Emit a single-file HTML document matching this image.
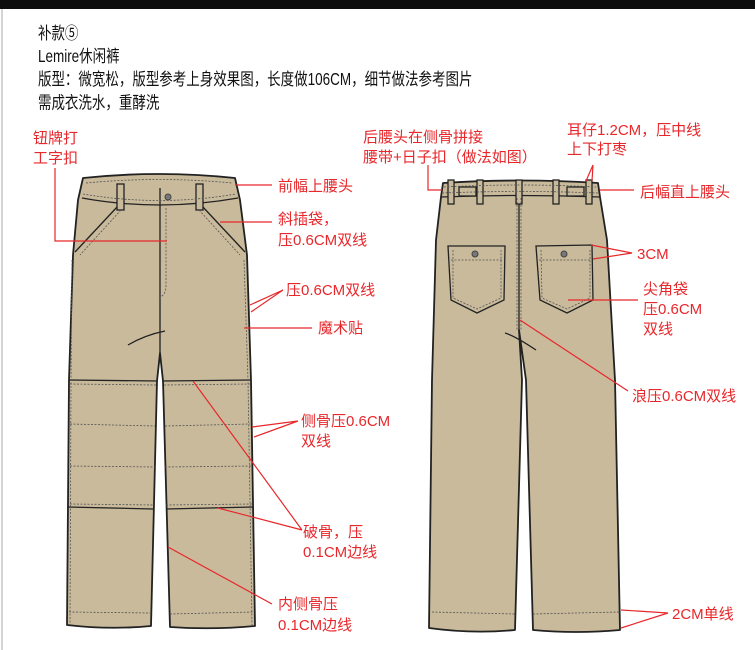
<!DOCTYPE html>
<html><head><meta charset="utf-8"><style>
html,body{margin:0;padding:0;background:#fff;}
body{width:755px;height:650px;overflow:hidden;position:relative;font-family:"Liberation Sans","Noto Sans CJK SC",sans-serif;}
svg{position:absolute;left:0;top:0;}
</style></head><body>
<svg width="755" height="650" viewBox="0 0 755 650" xmlns="http://www.w3.org/2000/svg" font-family="'Liberation Sans','Noto Sans CJK SC',sans-serif">
<rect x="0" y="0" width="755" height="9" fill="#0d0d0d"/>
<line x1="2" y1="9" x2="2" y2="650" stroke="#aaa" stroke-width="1"/>
<g font-size="15" fill="#111" transform="scale(0.9,1.15)">
<text x="42.2" y="33.9">补款⑤</text>
<text x="42.2" y="53.9">Lemire休闲裤</text>
<text x="42.2" y="73.9">版型：微宽松，版型参考上身效果图，长度做106CM，细节做法参考图片</text>
<text x="42.2" y="94.3">需成衣洗水，重酵洗</text>
</g>

<!-- FRONT PANTS -->
<g stroke="#222" stroke-width="1.8" fill="#c8ba9b" stroke-linejoin="round">
<path d="M83,178 Q159,170 235,178 L240,200 L247,255 L251,380 L255,626 Q212,630 170,627 L163,381 L160,353 L157,381 L151,626 Q110,630 67,625 L69,380 L73,255 L78,200 Z"/>
</g>
<g stroke="#222" stroke-width="1.3" fill="none">
<path d="M82,198 Q159,212 238,198"/>
<line x1="160" y1="188" x2="160" y2="353"/>
<path d="M118,206 L75,252"/><path d="M202,206 L245,252"/>
<path d="M69,380 L157,381"/><path d="M163,381 L251,380"/>
<path d="M68,507 L153,509"/><path d="M166,509 L253,507"/>
<path d="M128,345 Q145,335 165,331"/>
<rect x="117" y="184" width="7" height="26" fill="#c8ba9b"/>
<rect x="196" y="184" width="7" height="26" fill="#c8ba9b"/>
</g>
<circle cx="168" cy="197" r="3" fill="#777" stroke="#444" stroke-width="1"/>
<g stroke="#555" stroke-width="0.8" fill="none" stroke-dasharray="2,1.5">
<path d="M86,183 Q159,176 232,183"/>
<path d="M83,194 Q159,207 236,194"/>
<path d="M166,208 L166,285 Q166,295 160,297"/>
<path d="M121,210 L80,255"/><path d="M199,210 L240,255"/>
<path d="M72,260 L71,380 L70,625"/><path d="M244,260 L248,380 L252,625"/>
<path d="M70,384 L156,385"/><path d="M164,385 L250,384"/>
<path d="M70,424 L155,426"/><path d="M165,426 L250,424"/>
<path d="M70,466 L155,467"/><path d="M165,467 L251,466"/>
<path d="M70,504 L154,505"/><path d="M166,505 L252,504"/>
<path d="M69,612 L151,613"/><path d="M170,614 L254,612"/>
</g>

<!-- BACK PANTS -->
<g stroke="#222" stroke-width="1.8" fill="#c8ba9b" stroke-linejoin="round">
<path d="M443,183 Q520,178 598,183 L600,197 L607,240 L615,380 L620,630 Q576,634 533,630 L526,380 L519,330 L522,380 L515,630 Q472,634 429,628 L432,380 L436,240 L441,197 Z"/>
</g>
<g stroke="#222" stroke-width="1.3" fill="none">
<path d="M441,197 Q520,194 600,197"/>
<line x1="519" y1="196" x2="519" y2="330"/>
<path d="M448,246 L505,246 L504,300 L477,313 L451,300 Z" fill="#c8ba9b"/>
<path d="M536,246 L592,245 L593,300 L567,313 L540,300 Z" fill="#c8ba9b"/>
<path d="M505,333 Q515,336 536,350"/>
<rect x="459" y="187" width="17" height="9" fill="#c8ba9b"/>
<rect x="567" y="187" width="17" height="9" fill="#c8ba9b"/>
<rect x="448" y="180" width="6" height="24" fill="#c8ba9b"/>
<rect x="477" y="180" width="6" height="24" fill="#c8ba9b"/>
<rect x="516" y="180" width="6" height="24" fill="#c8ba9b"/>
<rect x="553" y="180" width="6" height="24" fill="#c8ba9b"/>
<rect x="586" y="180" width="6" height="24" fill="#c8ba9b"/>
</g>
<circle cx="475" cy="254" r="3" fill="#777" stroke="#444"/>
<circle cx="564" cy="254" r="3" fill="#777" stroke="#444"/>
<g stroke="#555" stroke-width="0.8" fill="none" stroke-dasharray="2,1.5">
<path d="M444,187 Q520,183 596,187"/><path d="M442,193 Q520,190 598,193"/>
<line x1="517" y1="198" x2="517" y2="330"/><line x1="521" y1="198" x2="521" y2="330"/>
<path d="M451,260 L502,260"/><path d="M453,250 L453,298 L477,309 L501,298 L501,250"/>
<path d="M539,260 L590,260"/><path d="M541,250 L542,298 L567,309 L590,298 L590,250"/>
<path d="M432,612 L515,614"/><path d="M533,614 L619,612"/>
</g>

<!-- RED LEADERS -->
<g stroke="#e8272b" stroke-width="1.2" fill="none">
<path d="M55,168 L55,241 L167,241"/>
<line x1="235" y1="185" x2="272" y2="185"/>
<line x1="220" y1="222" x2="272" y2="222"/>
<path d="M283,290 L250,305 M283,290 L251,312"/>
<line x1="244" y1="328" x2="312" y2="328"/>
<path d="M298,421 L252,427 M298,421 L254,437"/>
<path d="M302,530 L193,381 M302,530 L218,508"/>
<line x1="272" y1="604" x2="168" y2="547"/>
<path d="M428,165 L428,190 L442,190"/>
<path d="M593,165 L586,181 M593,165 L592,181"/>
<line x1="600" y1="190" x2="634" y2="190"/>
<path d="M632,253 L591,245 M632,253 L593,259"/>
<line x1="568" y1="300" x2="638" y2="300"/>
<line x1="628" y1="391" x2="520" y2="320"/>
<path d="M668,613 L621,610 M668,613 L621,628"/>
</g>
<g font-size="15" fill="#e8272b">
<text x="33" y="143">钮牌打</text>
<text x="33" y="163">工字扣</text>
<text x="278" y="191">前幅上腰头</text>
<text x="278" y="224">斜插袋，</text>
<text x="278" y="245">压0.6CM双线</text>
<text x="286" y="295">压0.6CM双线</text>
<text x="318" y="333">魔术贴</text>
<text x="301" y="426">侧骨压0.6CM</text>
<text x="301" y="446">双线</text>
<text x="303" y="537">破骨，压</text>
<text x="303" y="557">0.1CM边线</text>
<text x="278" y="609">内侧骨压</text>
<text x="278" y="630">0.1CM边线</text>
<text x="363" y="142">后腰头在侧骨拼接</text>
<text x="363" y="162">腰带+日子扣（做法如图）</text>
<text x="567" y="135">耳仔1.2CM，压中线</text>
<text x="567" y="154">上下打枣</text>
<text x="640" y="197">后幅直上腰头</text>
<text x="637" y="259">3CM</text>
<text x="643" y="294">尖角袋</text>
<text x="643" y="314">压0.6CM</text>
<text x="643" y="334">双线</text>
<text x="632" y="401">浪压0.6CM双线</text>
<text x="672" y="619">2CM单线</text>
</g>
</svg>
</body></html>
